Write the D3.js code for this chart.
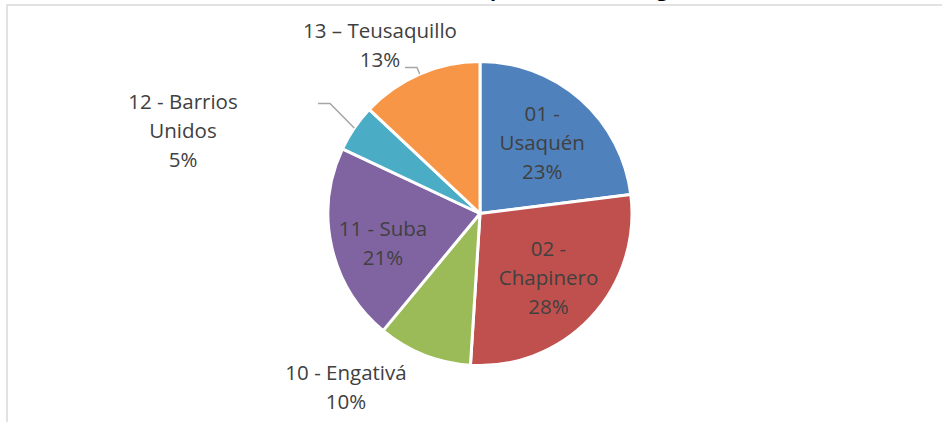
<!DOCTYPE html>
<html>
<head>
<meta charset="utf-8">
<script src="https://cdn.jsdelivr.net/npm/d3@7"></script>
<style>
  body { margin: 0; background: #fff; }
  svg text { font-family: "Open Sans", "Liberation Sans", sans-serif; }
</style>
</head>
<body>
<svg id="pie-chart"></svg>
<script>
// Data
const localidades = ["01 - Usaquén", "02 - Chapinero", "10 - Engativá", "11 - Suba", "12 - Barrios Unidos", "13 – Teusaquillo"];
const porcentajes = [23, 28, 10, 21, 5, 13];
const lineasEtiqueta = [["01 -", "Usaquén"], ["02 -", "Chapinero"], ["10 - Engativá"], ["11 - Suba"], ["12 - Barrios", "Unidos"], ["13 – Teusaquillo"]];
const colores = ["#4F81BD", "#C0504D", "#9BBB59", "#8064A2", "#4BACC6", "#F79646"];
const titulo = "Distribución por localidad, Bogotá";

// Layout: labels moved by hand (offset of label centre from pie centre, optional elbow of leader line)
const etiquetasManual = {
    "11 - Suba": {dx: -97, dy: 30, codo: null},
    "10 - Engativá": {dx: -134, dy: 174, codo: null},
    "12 - Barrios Unidos": {dx: -297, dy: -83, codo: [-150, -110]},
    "13 – Teusaquillo": {dx: -100, dy: -168, codo: [-63, -146]}
};

const width = 942, height = 422;
const cx = 480, cy = 213.5, radius = 152;
const lineHeight = 29;

const svg = d3.select("#pie-chart")
    .attr("width", width)
    .attr("height", height);

// chart area border
svg.append("rect")
    .attr("x", 7)
    .attr("y", 5)
    .attr("width", 1000)
    .attr("height", 500)
    .attr("fill", "none")
    .attr("stroke", "#d9d9d9")
    .attr("stroke-width", 1.5);

// title (mostly cut off above the frame, as in the source)
const title = svg.append("text")
    .attr("y", -4.5)
    .attr("font-size", 20)
    .attr("font-weight", "bold")
    .attr("fill", "#000")
    .text(titulo);
const pIdx = titulo.indexOf("p");
const pOffset = title.node().getSubStringLength(0, pIdx);
title.attr("x", 490 - pOffset);

const data = localidades.map((name, i) => ({
    name,
    value: porcentajes[i],
    lines: lineasEtiqueta[i],
    color: colores[i]
}));

const pie = d3.pie().sort(null).value(d => d.value);
const arcs = pie(data);

const arc = d3.arc().innerRadius(0).outerRadius(radius);
const labelArc = d3.arc().innerRadius(94).outerRadius(94);

const g = svg.append("g")
    .attr("transform", `translate(${cx},${cy})`);

g.selectAll(".slice")
    .data(arcs)
    .enter().append("path")
    .attr("class", "slice")
    .attr("d", arc)
    .attr("fill", d => d.data.color)
    .attr("stroke", "#fff")
    .attr("stroke-width", 3)
    .attr("stroke-linejoin", "round");

// leader lines for outside labels
arcs.forEach(d => {
    const pos = etiquetasManual[d.data.name];
    if (!pos || !pos.codo) return;
    const mid = (d.startAngle + d.endAngle) / 2;
    const edge = [radius * Math.sin(mid), -radius * Math.cos(mid)];
    const labelEnd = [pos.codo[0] - 12, pos.codo[1]];
    g.append("polyline")
        .attr("points", [edge, pos.codo, labelEnd].map(p => p.join(",")).join(" "))
        .attr("fill", "none")
        .attr("stroke", "#a6a6a6")
        .attr("stroke-width", 1.5);
});

// labels
const labels = g.selectAll(".label")
    .data(arcs)
    .enter().append("text")
    .attr("class", "label")
    .attr("text-anchor", "middle")
    .attr("font-size", 20.5)
    .attr("fill", "#404040")
    .attr("transform", d => {
        const pos = etiquetasManual[d.data.name];
        const c = pos ? [pos.dx, pos.dy] : labelArc.centroid(d);
        return `translate(${c[0]},${c[1]})`;
    });

labels.each(function(d) {
    const lines = d.data.lines.concat([d.data.value + "%"]);
    const n = lines.length;
    d3.select(this).selectAll("tspan")
        .data(lines)
        .enter().append("tspan")
        .attr("x", 0)
        .attr("y", (l, i) => (i - (n - 1) / 2) * lineHeight)
        .attr("dy", "0.35em")
        .text(l => l);
});
</script>
</body>
</html>
